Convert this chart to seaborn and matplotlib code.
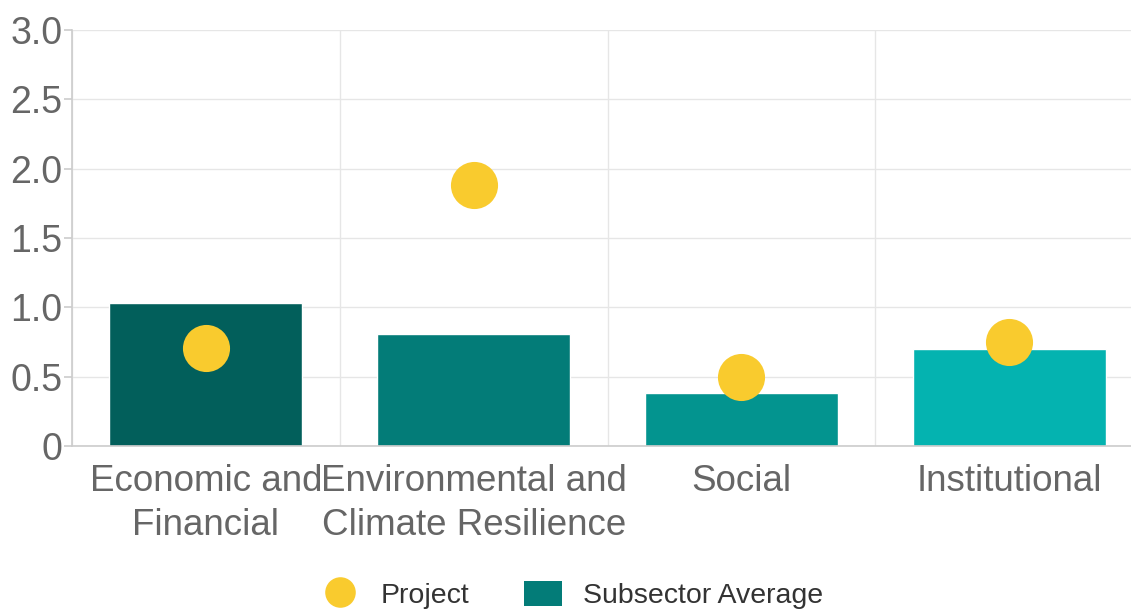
import matplotlib
matplotlib.use("Agg")
import matplotlib.pyplot as plt
import seaborn as sns
import pandas as pd
from matplotlib.lines import Line2D
from matplotlib.patches import Patch
from matplotlib.ticker import FixedLocator, FuncFormatter

categories = ["Economic and\nFinancial", "Environmental and\nClimate Resilience", "Social", "Institutional"]
subsector_avg = [1.03, 0.81, 0.38, 0.70]
project = [0.71, 1.88, 0.50, 0.75]
bar_colors = ["#025f5b", "#037c78", "#03948f", "#04b3b0"]
dot_color = "#f9cb2e"

sns.set_theme(style="white")
plt.rcParams['font.family'] = ['Liberation Sans', 'DejaVu Sans']

df = pd.DataFrame({"category": categories, "avg": subsector_avg, "project": project})

fig = plt.figure(figsize=(11.31, 6.09), dpi=100)
ax = fig.add_axes([72/1131, 163/609, 1071/1131, 416/609])

sns.barplot(data=df, x="category", y="avg", hue="category", palette=bar_colors,
            width=0.72, ax=ax, legend=False, saturation=1, zorder=2)
ax.scatter(range(len(categories)), project, s=1150, color=dot_color, zorder=3, linewidths=0)

ax.set_ylim(0, 3.0)
ax.set_xlim(-0.5, len(categories) - 0.5)
ax.set_yticks([0, 0.5, 1.0, 1.5, 2.0, 2.5, 3.0])
ax.yaxis.set_major_formatter(FuncFormatter(lambda v, p: "0" if v == 0 else f"{v:.1f}"))
ax.set_xlabel("")
ax.set_ylabel("")

ax.grid(axis="y", color="#e6e6e6", linewidth=1, zorder=0)
ax.xaxis.set_minor_locator(FixedLocator([-0.5, 0.5, 1.5, 2.5, 3.5]))
ax.grid(axis="x", which="minor", color="#e6e6e6", linewidth=1, zorder=0)
ax.set_axisbelow(True)

for s in ["top", "right"]:
    ax.spines[s].set_visible(False)
ax.spines["left"].set_color("#cccccc")
ax.spines["bottom"].set_color("#cccccc")
ax.spines["left"].set_linewidth(1.2)
ax.spines["bottom"].set_linewidth(1.2)

ax.tick_params(axis="x", which="major", length=0, labelsize=26.5, labelcolor="#666666", pad=13)
ax.tick_params(axis="x", which="minor", length=8, color="#cccccc", width=1.2)
ax.tick_params(axis="y", which="major", length=6, color="#cccccc", width=1.2,
               labelsize=27, labelcolor="#666666", pad=1, left=True)
for lbl in ax.get_xticklabels():
    lbl.set_linespacing(1.32)

handles = [Line2D([0], [0], marker="o", linestyle="", markersize=22, markerfacecolor=dot_color,
                  markeredgewidth=0, label="Project"),
           Patch(facecolor="#037c78", edgecolor="none", label="Subsector Average")]
fig.legend(handles=handles, loc="center", bbox_to_anchor=(0.506, 14/609), ncol=2, frameon=False,
           fontsize=20.5, labelcolor="#333333", handlelength=1.35, handleheight=1.0, columnspacing=1.9,
           handletextpad=0.75)

fig.savefig("out.png", dpi=100)
